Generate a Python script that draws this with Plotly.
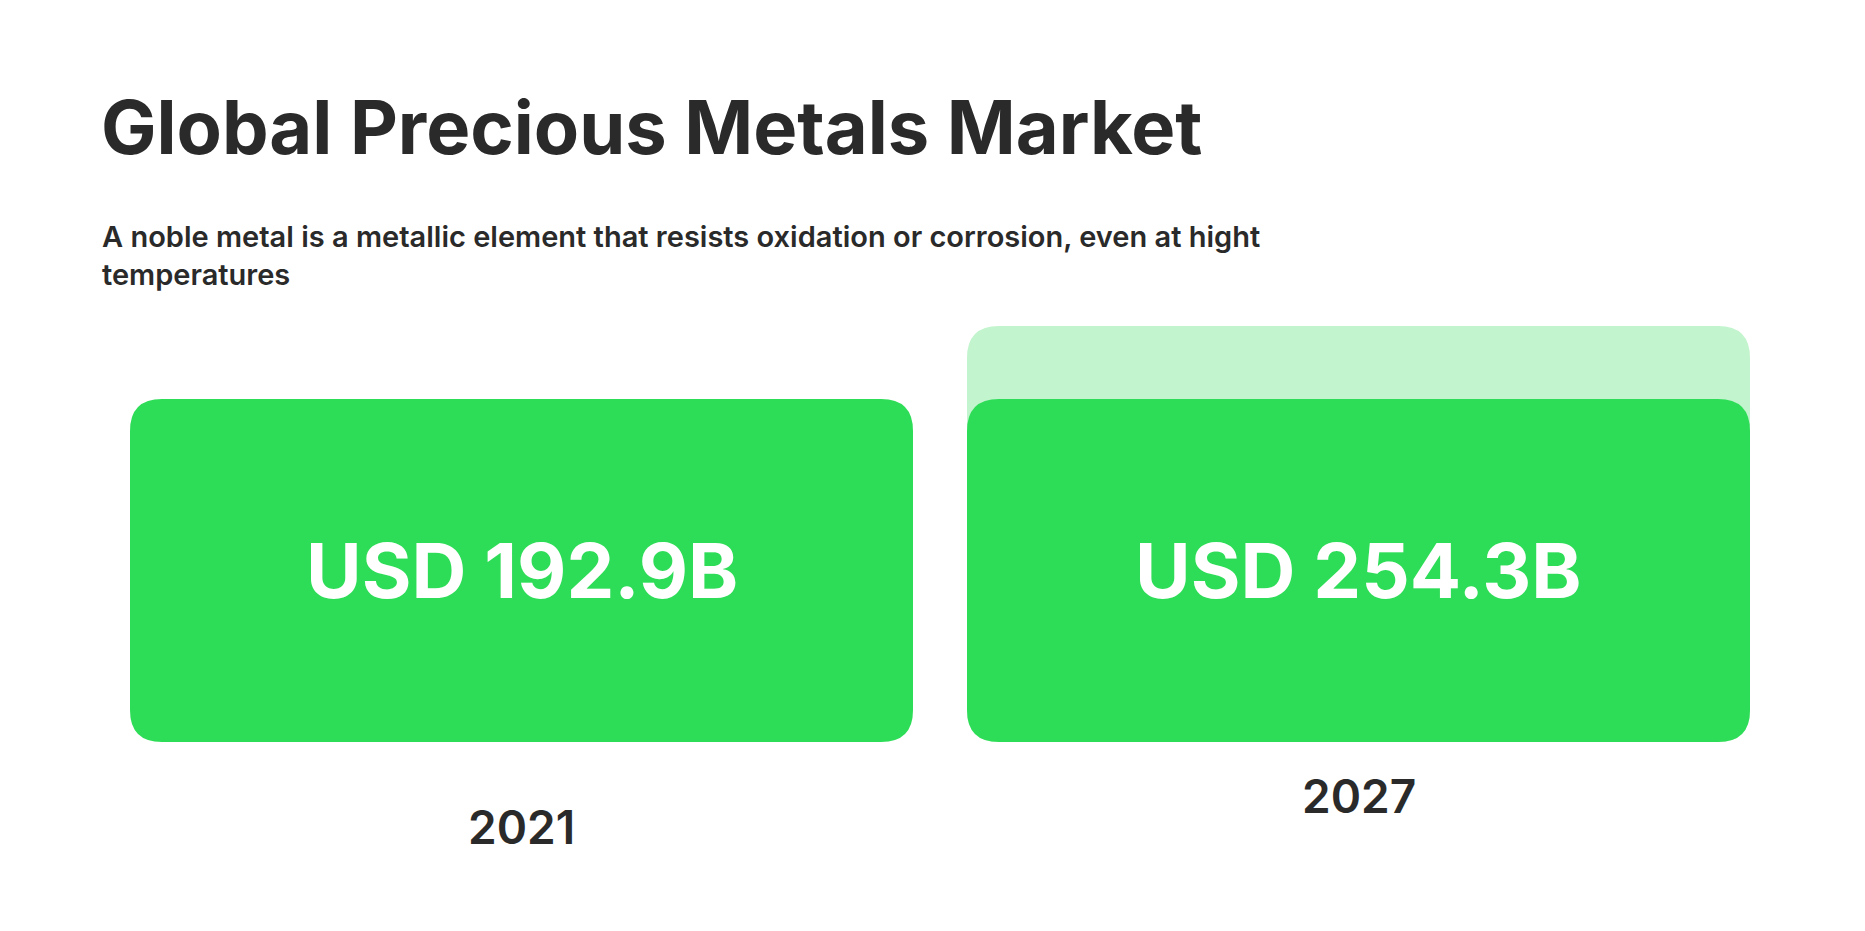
import plotly.graph_objects as go

years = ["2021", "2027"]
values = [192.9, 254.3]
labels = ["USD 192.9B", "USD 254.3B"]
title = "Global Precious Metals Market"
subtitle = "A noble metal is a metallic element that resists oxidation or corrosion, even at hight<br>temperatures"

GREEN = "#2EDD57"
LIGHT = "#C2F4CD"
TXT = "#2a2a2a"
FONT = "Inter"

W, H = 1865, 931
L, R, T, B = 95, 96, 318, 197
ymin = -95.6
ymax = max(values)
base_val = values[0]

pw = W - L - R
ph = H - T - B
xrange_ = [-0.5, 1.5]
half = (783 / (pw / 2)) / 2
rad_px = 32
rx = rad_px / pw * (xrange_[1] - xrange_[0])
ry = rad_px / ph * (ymax - ymin)


def rounded(x0, x1, y0, y1):
    return (f"M {x0+rx},{y0} L {x1-rx},{y0} Q {x1},{y0} {x1},{y0+ry} "
            f"L {x1},{y1-ry} Q {x1},{y1} {x1-rx},{y1} L {x0+rx},{y1} "
            f"Q {x0},{y1} {x0},{y1-ry} L {x0},{y0+ry} Q {x0},{y0} {x0+rx},{y0} Z")


shapes = []
# light extension showing the 2027 value
shapes.append(dict(type="path", xref="x", yref="y", path=rounded(1 - half, 1 + half, ymin, values[1]),
                   fillcolor=LIGHT, line=dict(width=0), layer="below"))
for i in range(len(years)):
    shapes.append(dict(type="path", xref="x", yref="y", path=rounded(i - half, i + half, ymin, base_val),
                       fillcolor=GREEN, line=dict(width=0), layer="below"))

fig = go.Figure()
fig.add_scatter(x=[0, 1], y=[ymin, ymin], mode="markers", marker=dict(opacity=0), hoverinfo="skip")


def py(pix):
    return (H - B - pix) / ph


anns = []
for i, (yr, lab) in enumerate(zip(years, labels)):
    anns.append(dict(x=i, y=py(562), xref="x", yref="paper", yanchor="middle", text=lab, showarrow=False,
                     font=dict(family=FONT, size=76, color="white", weight=700)))
    anns.append(dict(x=i, y=py(819 if i == 0 else 788), xref="x", yref="paper", yanchor="middle", text=yr,
                     showarrow=False, font=dict(family=FONT, size=46, color=TXT, weight=600)))
anns.append(dict(x=0, y=py(119), xref="paper", yref="paper", xanchor="left", yanchor="middle", xshift=-4,
                 text=title, showarrow=False, font=dict(family=FONT, size=74, color=TXT, weight=700)))
anns.append(dict(x=0, y=py(247), xref="paper", yref="paper", xanchor="left", yanchor="middle", align="left",
                 xshift=-3, text=subtitle, showarrow=False, font=dict(family=FONT, size=29, color=TXT, weight=600)))

fig.update_layout(
    width=W, height=H, margin=dict(l=L, r=R, t=T, b=B),
    showlegend=False, plot_bgcolor="white", paper_bgcolor="white",
    xaxis=dict(visible=False, range=xrange_, fixedrange=True),
    yaxis=dict(visible=False, range=[ymin, ymax], fixedrange=True),
    shapes=shapes, annotations=anns,
)
fig.write_html("out.html")
